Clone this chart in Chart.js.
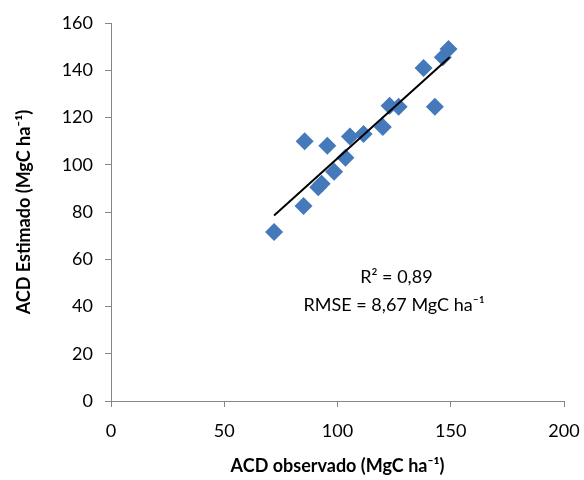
<!DOCTYPE html>
<html>
<head>
<meta charset="utf-8">
<script src="https://cdn.jsdelivr.net/npm/chart.js@4/dist/chart.umd.min.js"></script>
<style>
  html, body { margin: 0; padding: 0; background: #fff; }
  #wrap { width: 584px; height: 480px; }
</style>
</head>
<body>
<div id="wrap"><canvas id="scatterChart"></canvas></div>
<script>
// Datos
const observado = [72, 85, 85.5, 91.5, 93, 95.5, 98.5, 103.5, 105.5, 111.5, 120, 123, 127, 138, 143, 146.5, 149];
const estimado  = [71.5, 82.5, 110, 90.5, 92, 108, 97, 103, 112, 113, 116, 125, 124.5, 141, 124.5, 145.5, 149];
const lineaX = [72, 149.5];
const lineaY = [78.5, 145.5];
const xTicks = [0, 50, 100, 150, 200];
const yTicks = [0, 20, 40, 60, 80, 100, 120, 140, 160];
const anotaciones = ['R\u00B2 = 0,89', 'RMSE = 8,67 MgC ha\u207B\u00B9'];

const fontFam = 'Lato, "Open Sans", sans-serif';
const axisGray = '#868686';

const puntos = observado.map((x, i) => ({ x: x, y: estimado[i] }));
const linea = lineaX.map((x, i) => ({ x: x, y: lineaY[i] }));

// texto de R2 y RMSE
const textoPlugin = {
    id: 'textoPlugin',
    afterDatasetsDraw(chart) {
        const ctx = chart.ctx;
        const xs = chart.scales.x, ys = chart.scales.y;
        ctx.save();
        ctx.fillStyle = '#000';
        ctx.font = '18px ' + fontFam;
        ctx.textAlign = 'center';
        ctx.textBaseline = 'middle';
        ctx.fillText(anotaciones[0], xs.getPixelForValue(126), ys.getPixelForValue(52.5));
        ctx.fillText(anotaciones[1], xs.getPixelForValue(125), ys.getPixelForValue(40.5));
        ctx.restore();
    }
};

new Chart(document.getElementById('scatterChart'), {
    type: 'scatter',
    data: {
        datasets: [
            {
                label: 'ACD',
                data: puntos,
                pointStyle: 'rectRot',
                pointRadius: 9,
                pointHoverRadius: 9,
                backgroundColor: '#4479BA',
                borderColor: '#4479BA',
                borderWidth: 0,
                order: 2
            },
            {
                label: 'Tendencia',
                type: 'line',
                data: linea,
                borderColor: '#000',
                borderWidth: 2,
                pointRadius: 0,
                fill: false,
                order: 1
            }
        ]
    },
    options: {
        responsive: true,
        maintainAspectRatio: false,
        animation: false,
        layout: { padding: { top: 23, right: 20, left: 0, bottom: 0 } },
        plugins: {
            legend: { display: false },
            tooltip: { enabled: false }
        },
        scales: {
            x: {
                type: 'linear',
                min: 0,
                max: 200,
                afterBuildTicks: (axis) => { axis.ticks = xTicks.map(v => ({ value: v })); },
                afterFit: (axis) => {
                    axis.height = 79;
                    axis.paddingLeft = 0;
                    axis.paddingRight = 0;
                },
                grid: { drawOnChartArea: false, color: axisGray, tickLength: 6 },
                border: { color: axisGray, width: 1 },
                ticks: { color: '#000', font: { family: fontFam, size: 18 }, padding: 13, maxRotation: 0 },
                title: {
                    display: true,
                    text: 'ACD observado (MgC ha\u207B\u00B9)',
                    color: '#000',
                    font: { family: fontFam, size: 18, weight: 'bold' },
                    padding: { top: 4, bottom: 3 }
                }
            },
            y: {
                type: 'linear',
                min: 0,
                max: 160,
                afterBuildTicks: (axis) => { axis.ticks = yTicks.map(v => ({ value: v })); },
                afterFit: (axis) => {
                    axis.width = 111;
                    axis.paddingTop = 0;
                    axis.paddingBottom = 0;
                },
                grid: { drawOnChartArea: false, color: axisGray, tickLength: 6 },
                border: { color: axisGray, width: 1 },
                ticks: { color: '#000', font: { family: fontFam, size: 18 }, padding: 12 },
                title: {
                    display: true,
                    text: 'ACD Estimado (MgC ha\u207B\u00B9)',
                    color: '#000',
                    font: { family: fontFam, size: 18, weight: 'bold' },
                    padding: { top: 13, bottom: 0 }
                }
            }
        }
    },
    plugins: [textoPlugin]
});
</script>
</body>
</html>
